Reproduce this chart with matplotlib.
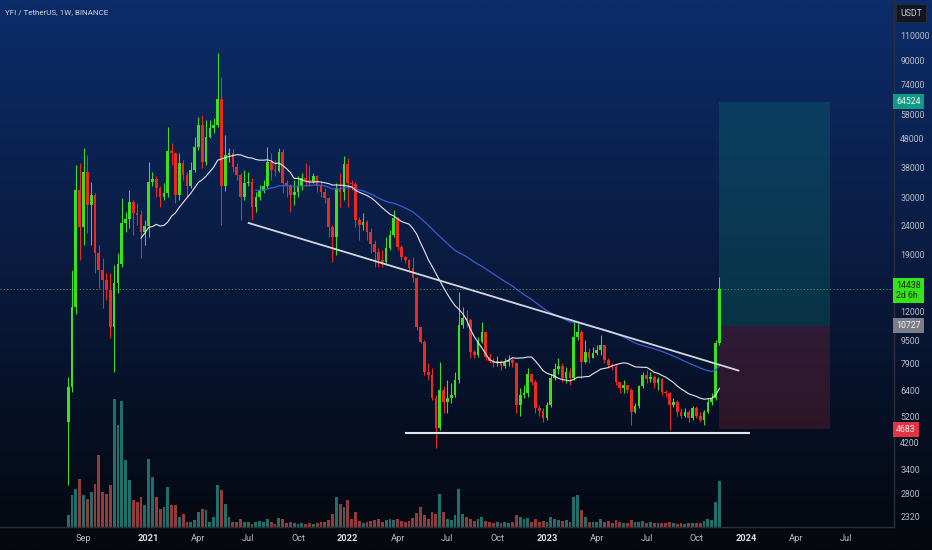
import numpy as np
import pandas as pd
import matplotlib
matplotlib.use("Agg")
import matplotlib.pyplot as plt
from matplotlib.colors import LinearSegmentedColormap
from matplotlib.transforms import blended_transform_factory
from matplotlib.ticker import NullLocator

plt.rcParams['font.family'] = ['Liberation Sans Narrow', 'Roboto', 'DejaVu Sans']

# ---------------- data (weekly bars, index 0 = week of 2021-01-04) ----------------
FIRST_WEEK = -21          # first bar = week of 2020-08-10
FIRST_OPEN = 4960

closes = [
    6570, 12490, 31810, 23710, 36830, 28210, 30560, 19160, 16760, 15470,
    14280, 10650, 15070, 17590, 24470, 25210, 28820, 26390, 26040, 22780,
    23900, 33980, 34650, 32360, 30160, 30990, 43460, 42760, 30560, 39390,
    35930, 32740, 37330, 45010, 53580, 39890, 48730, 52110, 53510, 65740,
    32740, 42090, 42870, 38330, 35860, 30160, 33540, 33980, 27830, 30000,
    31630, 32740, 39890, 37330, 37120, 43210, 33540, 32910, 30560, 31380,
    32740, 34930, 34450, 34000, 35620, 32740, 31380, 29760, 23710, 21880,
    32360, 31380, 39170, 33540, 33330, 25010, 24030, 24680, 22780, 20720,
    19400, 18160, 17890, 19930, 22180, 25340, 20200, 18640, 18160, 16990,
    15680, 10650, 9450, 7430, 7230, 6000, 4720, 6410, 5840, 6000,
    6160, 6950, 10800, 11380, 11230, 8720, 8490, 9450, 10230, 8380,
    8110, 7940, 8110, 7770, 8050, 8155, 7940, 5680, 6160, 6250,
    7290, 6840, 5540, 5420, 5110, 5680, 7040, 7590, 7770, 7040,
    7430, 7040, 9830, 10230, 8050, 8720, 8270, 8600, 8835, 9210,
    8155, 7840, 7730, 6830, 6520, 6680, 6410, 5390, 5620, 6600,
    7230, 6990, 7130, 6800, 6990, 6330, 6250, 5680, 5840, 5390,
    5210, 5390, 5110, 5540, 5210, 5040, 5390, 5840, 6000, 9330,
    14438,
]

highs = [
    7120, 16760, 38850, 39490, 44410, 42090, 33980, 31040, 20440, 18460,
    16360, 16360, 17450, 19200, 29760, 26660, 31810, 29360, 28660, 27100,
    25010, 39890, 36830, 35620, 32740, 33540, 52790, 46330, 43110, 42660,
    40440, 36830, 39890, 48740, 57180, 58000, 55690, 55690, 56450, 95030,
    78800, 49370, 44500, 44000, 39490, 36360, 37330, 36830, 35000, 31380,
    33190, 34450, 45010, 42660, 40440, 44410, 44000, 34450, 33330, 34450,
    35620, 36360, 39390, 38850, 36360, 35930, 33980, 32360, 30160, 24030,
    33540, 36360, 41590, 41050, 34450, 33980, 25690, 26390, 25010, 23400,
    21310, 19930, 19670, 21880, 23090, 27100, 25690, 20440, 18800, 18300,
    18640, 15880, 10650, 9570, 7940, 7630, 6160, 8050, 6600, 6950,
    6770, 7430, 14090, 12490, 12170, 11380, 8835, 9830, 11080, 10230,
    8600, 8270, 8420, 8155, 8290, 8490, 8270, 8050, 6520, 6680,
    7630, 7330, 6950, 5680, 5540, 5840, 7260, 7940, 8270, 7940,
    7730, 7630, 11080, 11080, 10400, 9570, 8960, 9080, 9210, 9970,
    9210, 8270, 7940, 7840, 6840, 6950, 6680, 6520, 5760, 6680,
    7430, 7530, 7430, 7230, 7130, 7050, 6410, 6330, 6000, 5920,
    5540, 5540, 5465, 5620, 5620, 5390, 5465, 6000, 6250, 9570,
    15880,
]

lows = [
    3000, 6330, 11800, 18160, 20440, 22540, 20440, 16360, 14510, 12370,
    13180, 9730, 7430, 13950, 17180, 22720, 23460, 22180, 24030, 18460,
    20440, 21880, 32740, 30160, 27830, 29360, 30160, 38850, 28660, 29360,
    34450, 30160, 32360, 36830, 43810, 37840, 38850, 48120, 50070, 52790,
    24030, 31500, 39800, 36830, 34450, 25010, 29360, 32740, 25010, 26730,
    29360, 30990, 32360, 34450, 35620, 36830, 30990, 30160, 26730, 28210,
    30160, 31810, 32740, 32740, 33540, 31380, 30160, 28590, 21880, 17890,
    18890, 27830, 29360, 27830, 31810, 23710, 21310, 23090, 21310, 19160,
    17210, 17210, 17210, 17660, 19670, 21880, 19670, 18160, 17660, 16540,
    15270, 10370, 9330, 7230, 6950, 5920, 4030, 4660, 5320, 5320,
    5760, 6080, 6770, 10510, 10650, 8270, 8270, 8380, 9330, 8155,
    7940, 7730, 7770, 7530, 7650, 7770, 7730, 5320, 5210, 6000,
    6080, 6680, 5320, 5210, 4980, 5040, 5600, 6950, 7260, 6840,
    6770, 6680, 6950, 9570, 7040, 7940, 7940, 8270, 8490, 8490,
    7940, 7630, 7530, 6680, 6250, 6250, 6250, 4840, 5320, 5540,
    6520, 6770, 6840, 6520, 6410, 6160, 6080, 4660, 5600, 5210,
    5110, 5160, 4980, 5040, 5110, 4980, 4840, 5320, 5680, 5920,
    9200,
]

volumes = [  # YFI traded per week
    9600, 25600, 30400, 38400, 25600, 22400, 28000, 34400, 57600, 28000,
    26400, 33600, 102400, 81600, 100800, 53600, 37600, 21600, 20000, 24000,
    17600, 54400, 40000, 24000, 14400, 16000, 32000, 17600, 17600, 8000,
    10400, 4000, 4000, 5600, 12000, 14400, 13600, 4000, 8000, 33600,
    29600, 18400, 8000, 4000, 4000, 6400, 4000, 4000, 2400, 4000,
    4800, 4000, 6400, 4000, 2400, 7200, 6400, 3200, 4000, 3200,
    2400, 3200, 2400, 3200, 2400, 3200, 4000, 4000, 5600, 10400,
    24000, 18400, 16000, 21600, 6400, 12000, 4800, 3200, 4000, 4800,
    5600, 6400, 4000, 5600, 6400, 5600, 6400, 4800, 4000, 4800,
    7200, 11200, 16000, 9600, 6400, 12000, 10400, 26400, 12000, 6400,
    5600, 9600, 30400, 10400, 8000, 6400, 4800, 6400, 8000, 4800,
    4000, 3200, 4000, 3200, 4000, 3200, 4000, 9600, 8000, 6400,
    7200, 4000, 6400, 4000, 4800, 4000, 8000, 6400, 5600, 4800,
    5600, 4000, 24000, 25600, 13600, 8000, 4000, 4000, 4000, 6400,
    4000, 4800, 3200, 5600, 4000, 3200, 3200, 5600, 4000, 4000,
    4800, 3200, 4000, 3200, 3200, 3200, 3200, 4000, 3200, 2400,
    3200, 2400, 3200, 3200, 3200, 3200, 4800, 6400, 5600, 20000,
    36800,
]

price_ticks = [110000, 90000, 74000, 58000, 48000, 38000, 30000, 24000, 19000,
               12000, 9500, 7900, 6400, 5200, 4200, 3400, 2800, 2320]
time_tick_weeks = [-17, 0, 13, 26, 39, 52, 65, 78, 91, 104, 117, 130, 143, 156, 169, 182]
time_tick_labels = ['Sep', '2021', 'Apr', 'Jul', 'Oct', '2022', 'Apr', 'Jul', 'Oct',
                    '2023', 'Apr', 'Jul', 'Oct', '2024', 'Apr', 'Jul']

trend_x = [25.9, 154.2]
trend_y = [24470, 7480]
support_x = [66.9, 157.0]
support_y = [4560, 4560]
pos_x = [149, 178]
entry_price, target_price, stop_price = 10727, 64524, 4683
last_price = 14438
countdown = '2d 6h'

# ---------------- styling ----------------
GREEN = '#3ce11d'
RED = '#ee2a1f'
VGREEN = '#1f6f6a'
VRED = '#943a3a'
AXTXT = '#b8bbc4'
FS = 6.3

W, H = 932, 550
fig = plt.figure(figsize=(W / 100, H / 100), dpi=100)

# gradient background over the whole figure
bg = fig.add_axes([0, 0, 1, 1], zorder=-10)
grad = np.linspace(0, 1, 512).reshape(-1, 1)
cmap = LinearSegmentedColormap.from_list(
    'bg', [(0.0, '#0c2c6a'), (0.45, '#0a1c42'), (1.0, '#04070d')])
bg.imshow(grad, aspect='auto', cmap=cmap, extent=[0, 1, 0, 1], origin='upper')
bg.axis('off')

ax = fig.add_axes([0, 23 / H, 894 / W, 527 / H])
vax = ax.twinx()
ax.set_zorder(2)
vax.set_zorder(1)
ax.patch.set_visible(False)
vax.patch.set_visible(False)

n = len(closes)
idx = np.arange(FIRST_WEEK, FIRST_WEEK + n)
c = np.array(closes, dtype=float)
o = np.array([FIRST_OPEN] + closes[:-1], dtype=float)   # weekly open = prior close
hi = np.array(highs, dtype=float)
lo = np.array(lows, dtype=float)
up = c >= o

# volume
vax.bar(idx, volumes, width=0.74, color=np.where(up, VGREEN, VRED), linewidth=0)
vax.set_ylim(0, 527 * 800)
vax.set_yticks([])
for s in vax.spines.values():
    s.set_visible(False)

# candles
ax.set_yscale('log')
ax.vlines(idx, lo, hi, colors=np.where(up, GREEN, RED), lw=0.75, zorder=3)
body_lo = np.minimum(o, c)
body_h = np.maximum(np.abs(c - o), body_lo * 0.008)
ax.bar(idx, body_h, bottom=body_lo, width=0.7, color=np.where(up, GREEN, RED),
       linewidth=0, zorder=3)

# moving averages
sma20 = pd.Series(c).rolling(20).mean().values
ema50 = np.full(n, np.nan)
ema50[49] = c[:50].mean()
alpha = 2 / 51
for k in range(50, n):
    ema50[k] = alpha * c[k] + (1 - alpha) * ema50[k - 1]
ax.plot(idx, ema50, color='#3b5bd6', lw=0.9, zorder=4)
ax.plot(idx, sma20, color='#e6e7ee', lw=0.8, zorder=4)

# drawings
ax.plot(trend_x, trend_y, color='#d4d6de', lw=1.3, zorder=5, solid_capstyle='butt')
ax.plot(support_x, support_y, color='#e4e5ea', lw=1.5, zorder=5, solid_capstyle='butt')
ax.fill_between(pos_x, entry_price, target_price, color='#0a9a82', alpha=0.22, lw=0, zorder=1)
ax.fill_between(pos_x, stop_price, entry_price, color='#f23645', alpha=0.17, lw=0, zorder=1)
ax.axhline(last_price, color='#2fa84a', lw=0.7, ls=(0, (1.2, 2.2)), zorder=2)

# axes limits (bar index / log price)
ax.set_xlim(-38.8, 194.6)
ax.set_ylim(2141, 145600)

# right price scale
ax.yaxis.tick_right()
ax.yaxis.set_minor_locator(NullLocator())
ax.set_yticks(price_ticks)
ax.set_yticklabels([str(t) for t in price_ticks])
ax.tick_params(axis='y', length=0, pad=4.5, labelsize=FS, labelcolor=AXTXT)

# time scale
ax.set_xticks(time_tick_weeks)
ax.set_xticklabels(time_tick_labels)
ax.tick_params(axis='x', length=0, pad=5, labelsize=6.7, labelcolor=AXTXT)
for lab in ax.get_xticklabels():
    if lab.get_text().isdigit():
        lab.set_color('#dcdee5')
        lab.set_fontweight('bold')

for side in ['top', 'left']:
    ax.spines[side].set_visible(False)
ax.spines['right'].set_color('#2a2e39')
ax.spines['bottom'].set_color('#2a2e39')
ax.spines['right'].set_linewidth(1.0)
ax.spines['bottom'].set_linewidth(1.0)

# price labels on the scale
btr = blended_transform_factory(ax.transAxes, ax.transData)


def scale_label(price, text, fc, tc, dy=0, va='center'):
    ax.annotate(text, xy=(1.0, price), xycoords=btr, xytext=(1.5, dy),
                textcoords='offset points', ha='left', va=va, fontsize=FS,
                color=tc, zorder=10, annotation_clip=False, linespacing=1.05,
                bbox=dict(boxstyle='square,pad=0.35', fc=fc, ec='none'))


scale_label(target_price, str(target_price), '#0e9a84', '#e8f5f2')
scale_label(entry_price, str(entry_price), '#7b7e89', '#f2f3f5')
scale_label(stop_price, str(stop_price), '#e23444', '#fbecee')
scale_label(last_price, f'{last_price}\n{countdown}', '#35e21c', '#0a2a0a', dy=5.2, va='top')

# header text
fig.text(5 / W, 1 - 12 / H, 'YFI / TetherUS, 1W, BINANCE', color='#d2d5de',
         fontsize=5.8, va='center', ha='left')
fig.text(911 / W, 1 - 13 / H, 'USDT', color='#c9ccd4', fontsize=FS, va='center',
         ha='center', bbox=dict(boxstyle='square,pad=0.5', fc='#121620', ec='#2a2e39', lw=0.6))

fig.savefig('out.png', dpi=100)
